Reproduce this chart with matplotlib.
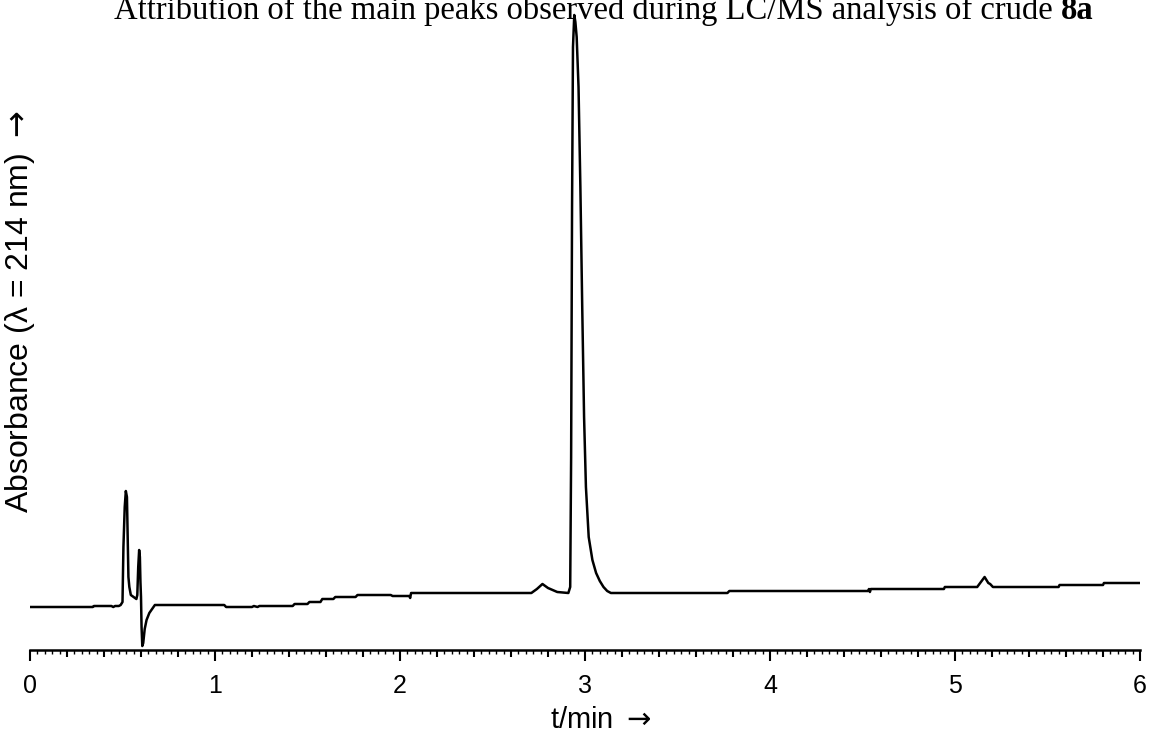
import matplotlib
matplotlib.use('Agg')
import matplotlib.pyplot as plt
from matplotlib.ticker import MultipleLocator, FuncFormatter
from matplotlib.offsetbox import TextArea, HPacker, AnchoredOffsetbox

# chromatogram trace (absorbance in arbitrary units)
t_min = [0.00, 0.34, 0.345, 0.44, 0.45, 0.46, 0.48, 0.49, 0.50, 0.505,
         0.512, 0.518, 0.524, 0.528, 0.532, 0.537, 0.545, 0.56, 0.575, 0.58,
         0.585, 0.59, 0.594, 0.597, 0.60, 0.603, 0.607, 0.612, 0.62, 0.63,
         0.645, 0.66, 0.675, 1.05, 1.06, 1.20, 1.21, 1.23, 1.24, 1.42,
         1.43, 1.50, 1.51, 1.57, 1.58, 1.64, 1.65, 1.76, 1.77, 1.95,
         1.96, 2.05, 2.055, 2.06, 2.71, 2.74, 2.77, 2.80, 2.85, 2.91,
         2.92, 2.925, 2.93, 2.935, 2.942, 2.948, 2.955, 2.965, 2.975, 2.985,
         2.995, 3.005, 3.02, 3.04, 3.06, 3.08, 3.10, 3.12, 3.14, 3.77,
         3.78, 4.53, 4.535, 4.54, 4.545, 4.94, 4.945, 5.12, 5.14, 5.16,
         5.18, 5.19, 5.205, 5.56, 5.565, 5.80, 5.805, 6.00]
absorb = [0, 0, 1, 1, 0, 1, 1, 2, 5, 60,
          100, 116, 110, 70, 30, 20, 12, 10, 8, 12,
          40, 57, 50, 25, 10, -20, -39, -36, -22, -13,
          -6, -2, 2, 2, 0, 0, 1, 0, 1, 1,
          3, 3, 5, 5, 8, 8, 10, 10, 12, 12,
          11, 11, 9, 14, 14, 18, 23, 19, 15, 14,
          20, 150, 400, 560, 592, 585, 570, 520, 420, 300,
          190, 120, 70, 47, 34, 26, 20, 16, 14, 14,
          16, 16, 18, 15, 18, 18, 20, 20, 25, 30,
          24, 23, 20, 20, 22, 22, 24, 24]

W, H = 1149, 733
sans = ['Liberation Sans', 'DejaVu Sans']
fig = plt.figure(figsize=(W / 100, H / 100), dpi=100)
ax = fig.add_axes([30 / W, 1 - 650 / H, 1110 / W, 640 / H])

ax.plot(t_min, absorb, color='black', lw=1.8)
ax.set_xlim(0, 6)
ax.set_ylim(-43, 597)

for s in ['left', 'right', 'top']:
    ax.spines[s].set_visible(False)
ax.spines['bottom'].set_linewidth(1.8)
ax.set_yticks([])

ax.xaxis.set_major_locator(MultipleLocator(0.2))
ax.xaxis.set_minor_locator(MultipleLocator(0.04))
ax.xaxis.set_major_formatter(FuncFormatter(
    lambda v, p: '%d' % round(v) if abs(v - round(v)) < 1e-6 else ''))
ax.tick_params(axis='x', which='major', direction='out', length=5, width=1.5,
               pad=12, labelsize=18)
ax.tick_params(axis='x', which='minor', direction='out', length=3, width=1.0)
for tk, v in zip(ax.xaxis.get_major_ticks(), ax.get_xticks()):
    if abs(v - round(v)) < 1e-6:
        tk.tick1line.set_markersize(8)
for lab in ax.get_xticklabels():
    lab.set_fontfamily(sans)

fig.text(601 / W, 1 - 720 / H, r't/min $\rightarrow$', ha='center', va='center',
         fontsize=21, family=sans)
fig.text(20 / W, 1 - 312 / H, 'Absorbance (\u03bb = 214 nm) $\\rightarrow$',
         ha='center', va='center', rotation=90, fontsize=23, family=sans)

# title, with the compound number in bold
part1 = TextArea('Attribution of the main peaks observed during LC/MS analysis of crude',
                 textprops=dict(fontsize=23.5, family='Liberation Serif'))
part2 = TextArea('8a', textprops=dict(fontsize=23.5, family='Liberation Serif',
                                     weight='bold'))
box = HPacker(children=[part1, part2], align='baseline', pad=0, sep=6)
anch = AnchoredOffsetbox(loc='lower center', child=box, pad=0, borderpad=0,
                         frameon=False, bbox_to_anchor=(604 / W, 1 - 26 / H),
                         bbox_transform=fig.transFigure)
fig.add_artist(anch)

fig.savefig('out.png', dpi=100)
